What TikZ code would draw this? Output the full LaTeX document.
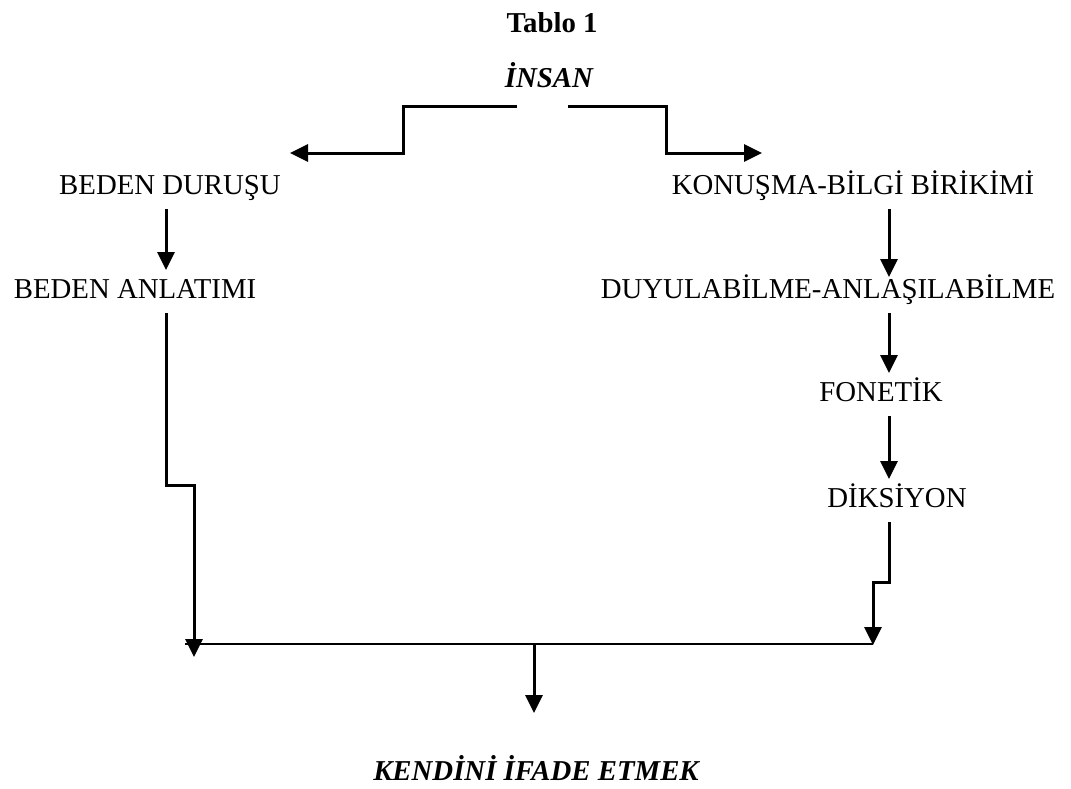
\documentclass[tikz,border=0pt]{standalone}
\usepackage{fontspec}
\setmainfont{Liberation Serif}
\usetikzlibrary{arrows.meta}
\begin{document}
\begin{tikzpicture}[x=0.5pt,y=-0.5pt,
    lbl/.style={anchor=base,inner sep=0pt,outer xsep=0pt,outer ysep=4.5pt,
      text height=9.5pt,text depth=3pt,font=\fontsize{14.4}{17}\selectfont},
    arr/.style={line width=1.5pt,-{Triangle[length=9pt,width=8.5pt]}},
    bar/.style={line width=0.8pt}]
      \useasboundingbox (0,0) rectangle (1071,788);
      \node[lbl,font=\fontsize{14.4}{17}\selectfont\bfseries](tablo) at (552,32){Tablo 1};
      \node[lbl,font=\fontsize{14.4}{17}\selectfont\bfseries\itshape](insan) at (549,87){İNSAN};
      \node[lbl](durus) at (170,194){BEDEN DURUŞU};
      \node[lbl](anlatim) at (135,298){BEDEN ANLATIMI};
      \node[lbl](konusma) at (853,194){KONUŞMA-BİLGİ BİRİKİMİ};
      \node[lbl](duyul) at (828,298){DUYULABİLME-ANLAŞILABİLME};
      \node[lbl](fonetik) at (881,401){FONETİK};
      \node[lbl](diksiyon) at (897,507){DİKSİYON};
      \node[lbl,font=\fontsize{14.4}{17}\selectfont\bfseries\itshape](ifade) at (536,780){KENDİNİ İFADE ETMEK};
      \coordinate (colL) at (166,0);
      \coordinate (colR) at (889,0);
      \coordinate (stepL) at (403,153);
      \coordinate (tipL) at (290,153);
      \coordinate (stepR) at (666,153);
      \coordinate (tipR) at (762,153);
      \coordinate (jogL) at (194,485);
      \coordinate (endL) at (194,657);
      \coordinate (jogR) at (873,582);
      \coordinate (endR) at (873,645);
      \coordinate (barL) at (185,644);
      \coordinate (barR) at (873,644);
      \coordinate (barM) at (534,644);
      \draw[arr] ([xshift=-16pt,yshift=-2pt]insan.south) -| (stepL) -- (tipL);
      \draw[arr] ([xshift=9.5pt,yshift=-2pt]insan.south) -| (stepR) -- (tipR);
      \draw[arr] (durus.south -| colL) -- (anlatim.north -| colL);
      \draw[arr,shorten >=-3.5pt] (konusma.south -| colR) -- (duyul.north -| colR);
      \draw[arr] (duyul.south -| colR) -- (fonetik.north -| colR);
      \draw[arr] (fonetik.south -| colR) -- (diksiyon.north -| colR);
      \draw[arr] (anlatim.south -| colL) |- (jogL) -- (endL);
      \draw[arr] (diksiyon.south -| colR) |- (jogR) -- (endR);
      \draw[bar] (barL) -- (barR);
      \draw[arr,shorten >=19.5pt] (barM) -- (barM |- ifade.north);
    \end{tikzpicture}
\end{document}
